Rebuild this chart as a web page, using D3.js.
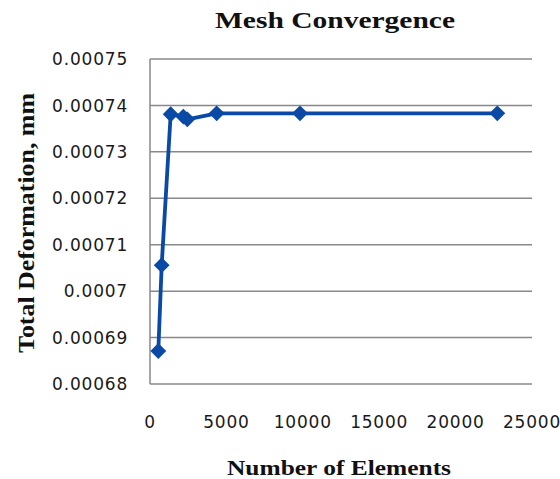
<!DOCTYPE html>
<html><head><meta charset="utf-8">
<script src="https://cdn.jsdelivr.net/npm/d3@7"></script>
<style>body{margin:0;background:#fff}</style>
</head><body>
<svg id="c" width="560" height="479"></svg>
<script>
const elements = [543, 765, 1353, 2180, 2443, 4363, 9817, 22730];
const deformation = [0.0006871, 0.0007056, 0.0007381, 0.0007376, 0.0007370, 0.0007383, 0.0007383, 0.0007383];
const yTicks = [0.00068, 0.00069, 0.0007, 0.00071, 0.00072, 0.00073, 0.00074, 0.00075];
const yTickLabels = ["0.00068","0.00069","0.0007","0.00071","0.00072","0.00073","0.00074","0.00075"];
const xTicks = [0, 5000, 10000, 15000, 20000, 25000];
const title = "Mesh Convergence";
const xTitle = "Number of Elements";
const yTitle = "Total Deformation, mm";

const svg = d3.select("#c");
const L = 150, R = 532, T = 59, B = 384;
const x = d3.scaleLinear().domain([0, 25000]).range([L, R]);
const y = d3.scaleLinear().domain([0.00068, 0.00075]).range([B, T]);

svg.append("g").selectAll("line").data(yTicks).join("line")
  .attr("x1", L).attr("x2", R).attr("y1", d => y(d)).attr("y2", d => y(d))
  .attr("stroke", "#888").attr("stroke-width", 1.5);
svg.append("line").attr("x1", L).attr("x2", L).attr("y1", T).attr("y2", B)
  .attr("stroke", "#888").attr("stroke-width", 1.5);

svg.append("g").selectAll("text").data(yTicks).join("text")
  .attr("x", 128).attr("y", d => y(d)).attr("dy", "0.36em")
  .attr("text-anchor", "end")
  .attr("font-family", "DejaVu Sans").attr("font-size", 17).attr("letter-spacing", 0.8)
  .attr("fill", "#1a1a1a")
  .text((d, i) => yTickLabels[i]);
svg.append("g").selectAll("text").data(xTicks).join("text")
  .attr("x", d => x(d)).attr("y", 428)
  .attr("text-anchor", "middle")
  .attr("font-family", "DejaVu Sans").attr("font-size", 17).attr("letter-spacing", 0.8)
  .attr("fill", "#1a1a1a")
  .text(d => d);

svg.append("path").datum(elements.map((e, i) => [e, deformation[i]]))
  .attr("fill", "none").attr("stroke", "#0a4aa6").attr("stroke-width", 3.8)
  .attr("stroke-linejoin", "round")
  .attr("d", d3.line().x(d => x(d[0])).y(d => y(d[1])));
svg.append("g").selectAll("path").data(elements.map((e, i) => [e, deformation[i]]))
  .join("path")
  .attr("transform", d => `translate(${x(d[0])},${y(d[1])})`)
  .attr("d", d3.symbol(d3.symbolDiamond2, 160)())
  .attr("fill", "#0a4aa6");

svg.append("text").attr("x", 335).attr("y", 28).attr("text-anchor", "middle")
  .attr("font-family", "Liberation Serif").attr("font-weight", "bold").attr("font-size", 23)
  .attr("textLength", 240).attr("lengthAdjust", "spacingAndGlyphs")
  .attr("fill", "#111").text(title);
svg.append("text").attr("x", 339).attr("y", 475).attr("text-anchor", "middle")
  .attr("font-family", "Liberation Serif").attr("font-weight", "bold").attr("font-size", 22)
  .attr("textLength", 224).attr("lengthAdjust", "spacingAndGlyphs")
  .attr("fill", "#111").text(xTitle);
svg.append("text").attr("transform", "translate(34,223) rotate(-90)").attr("text-anchor", "middle")
  .attr("font-family", "Liberation Serif").attr("font-weight", "bold").attr("font-size", 23)
  .attr("textLength", 260).attr("lengthAdjust", "spacingAndGlyphs")
  .attr("fill", "#111").text(yTitle);
</script>
</body></html>
